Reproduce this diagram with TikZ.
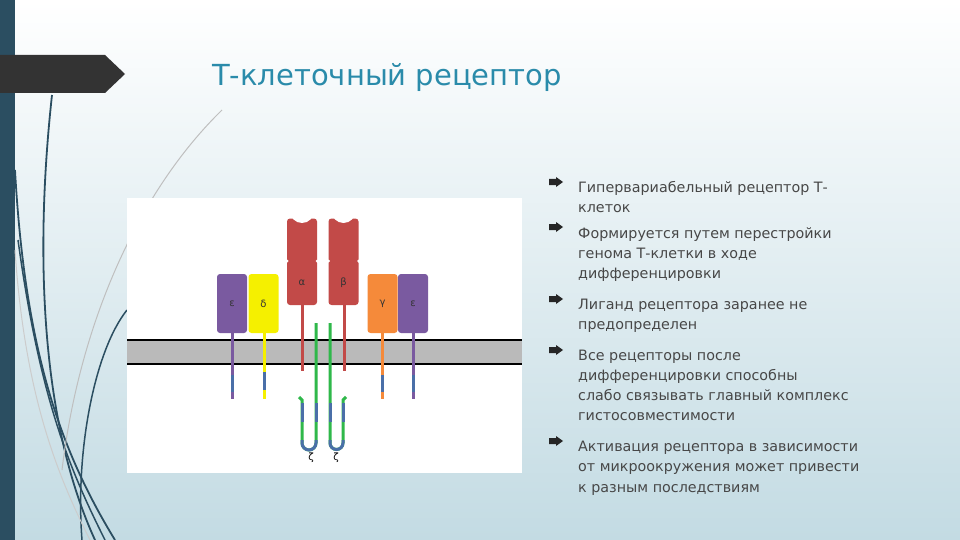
\documentclass[tikz,border=0pt]{standalone}
\usepackage{fontspec}
\setmainfont{DejaVu Sans}
\begin{document}
\begin{tikzpicture}[x=1pt,y=-1pt,
  sub/.style={draw=none,rounded corners=3pt,minimum width=30pt,minimum height=59pt,inner sep=0pt,font=\fontsize{10}{10}\selectfont,text=black!80},
  bul/.style={anchor=base west,inner sep=0pt,font=\fontsize{14.3}{14.3}\selectfont,text=black!72},
  stalk/.style={line width=3pt}]
\definecolor{bgb}{HTML}{C3DBE3}
\definecolor{bar}{HTML}{2B4E61}
\definecolor{teal}{HTML}{2A8BAA}
\definecolor{pur}{HTML}{7A5AA0}
\definecolor{yel}{HTML}{F5F000}
\definecolor{red}{HTML}{C24A48}
\definecolor{ora}{HTML}{F58A3A}
\definecolor{grn}{HTML}{2FB84A}
\definecolor{blu}{HTML}{4A6FA8}
\useasboundingbox (0,0) rectangle (960,540);
\shade[top color=white,bottom color=bgb] (0,0) rectangle (960,540);
\fill[bar] (0,0) rectangle (15,540);
% curves
\draw[bar,line width=1.8pt] (52,95) .. controls (35,250) and (40,420) .. (95,540);
\draw[bar,line width=1.8pt] (15,170) .. controls (25,350) and (60,450) .. (115,540);
\draw[bar,line width=1.5pt] (18,240) .. controls (40,400) and (70,470) .. (105,540);
\draw[bar,line width=1.5pt] (127,310) .. controls (95,350) and (75,450) .. (82,540);
\draw[black!25,line width=1pt] (222,110) .. controls (140,190) and (80,320) .. (62,470);
\draw[black!20,line width=1pt] (15,250) .. controls (25,400) and (60,480) .. (90,540);
\fill[black!80] (0,55) -- (105,55) -- (125,74) -- (105,93) -- (0,93) -- cycle;
\node[anchor=base west,inner sep=0pt,text=teal,font=\fontsize{29}{29}\selectfont] (title) at (212,86) {Т-клеточный рецептор};
% panel
\fill[white] (127,198) rectangle (522,473);
\fill[black!27] (127,340) rectangle (522,364);
\draw[line width=1.5pt] (127,340) -- (522,340) (127,364) -- (522,364);
% stalks
\draw[stalk,pur] (232,333) -- (232,399); \draw[stalk,blu] (232,375) -- (232,392);
\draw[stalk,yel] (264,333) -- (264,399); \draw[stalk,blu] (264,372) -- (264,390);
\draw[stalk,ora] (382,333) -- (382,399); \draw[stalk,blu] (382,375) -- (382,392);
\draw[stalk,pur] (413,333) -- (413,399); \draw[stalk,blu] (413,375) -- (413,392);
\draw[stalk,red] (302,300) -- (302,371);
\draw[stalk,red] (344,300) -- (344,371);
% zeta
\draw[stalk,grn] (316,323) -- (316,443) arc (0:180:7) -- (302,400) -- (299,397);
\draw[stalk,grn] (330,323) -- (330,443) arc (180:0:6.5) -- (343,400) -- (346,397);
\draw[stalk,blu] (316,403) -- (316,422) (302,403) -- (302,422) (330,403) -- (330,422) (343,403) -- (343,422);
\draw[stalk,blu] (316,440) -- (316,443) arc (0:180:7) -- (302,440);
\draw[stalk,blu] (330,440) -- (330,443) arc (180:0:6.5) -- (343,440);
\node[font=\fontsize{10}{10}\selectfont] (z1) at (311,458) {ζ};
\node[font=\fontsize{10}{10}\selectfont] (z2) at (336,458) {ζ};
% subunits
\node[sub,fill=pur] (e1) at (232,303.5) {ε};
\node[sub,fill=yel] (d) at (263.5,303.5) {δ};
\node[sub,fill=ora] (g) at (382.5,303.5) {γ};
\node[sub,fill=pur] (e2) at (413,303.5) {ε};
\node[sub,fill=red,minimum height=45pt] (a) at (302,282.5) {α};
\node[sub,fill=red,minimum height=45pt] (b) at (343.5,282.5) {β};
\node[sub,fill=red,minimum height=45pt] (a2) at (302,241) {};
\node[sub,fill=red,minimum height=45pt] (b2) at (343.5,241) {};
\fill[white] (302,211) circle (12);
\fill[white] (343.5,211) circle (12);
\fill[white] (287,261) circle (1.5) (317,261) circle (1.5) (328.5,261) circle (1.5) (358.5,261) circle (1.5);
% bullets
\foreach \y in {187,232,304,355,446}{\fill[black!85] (549,\y-8) -- (556,\y-8) -- (556,\y-10) -- (563,\y-5) -- (556,\y) -- (556,\y-2) -- (549,\y-2) -- cycle;}
\node[bul] (t1) at (578,192) {Гипервариабельный рецептор Т-};
\node[bul] (t1b) at (578,212) {клеток};
\node[bul] (t2) at (578,238) {Формируется путем перестройки};
\node[bul] (t2b) at (578,258) {генома Т-клетки в ходе};
\node[bul] (t2c) at (578,278) {дифференцировки};
\node[bul] (t3) at (578,309) {Лиганд рецептора заранее не};
\node[bul] (t3b) at (578,329) {предопределен};
\node[bul] (t4) at (578,360) {Все рецепторы после};
\node[bul] (t4b) at (578,380) {дифференцировки способны};
\node[bul] (t4c) at (578,400) {слабо связывать главный комплекс};
\node[bul] (t4d) at (578,420) {гистосовместимости};
\node[bul] (t5) at (578,451) {Активация рецептора в зависимости};
\node[bul] (t5b) at (578,471) {от микроокружения может привести};
\node[bul] (t5c) at (578,492) {к разным последствиям};
\end{tikzpicture}
\end{document}
